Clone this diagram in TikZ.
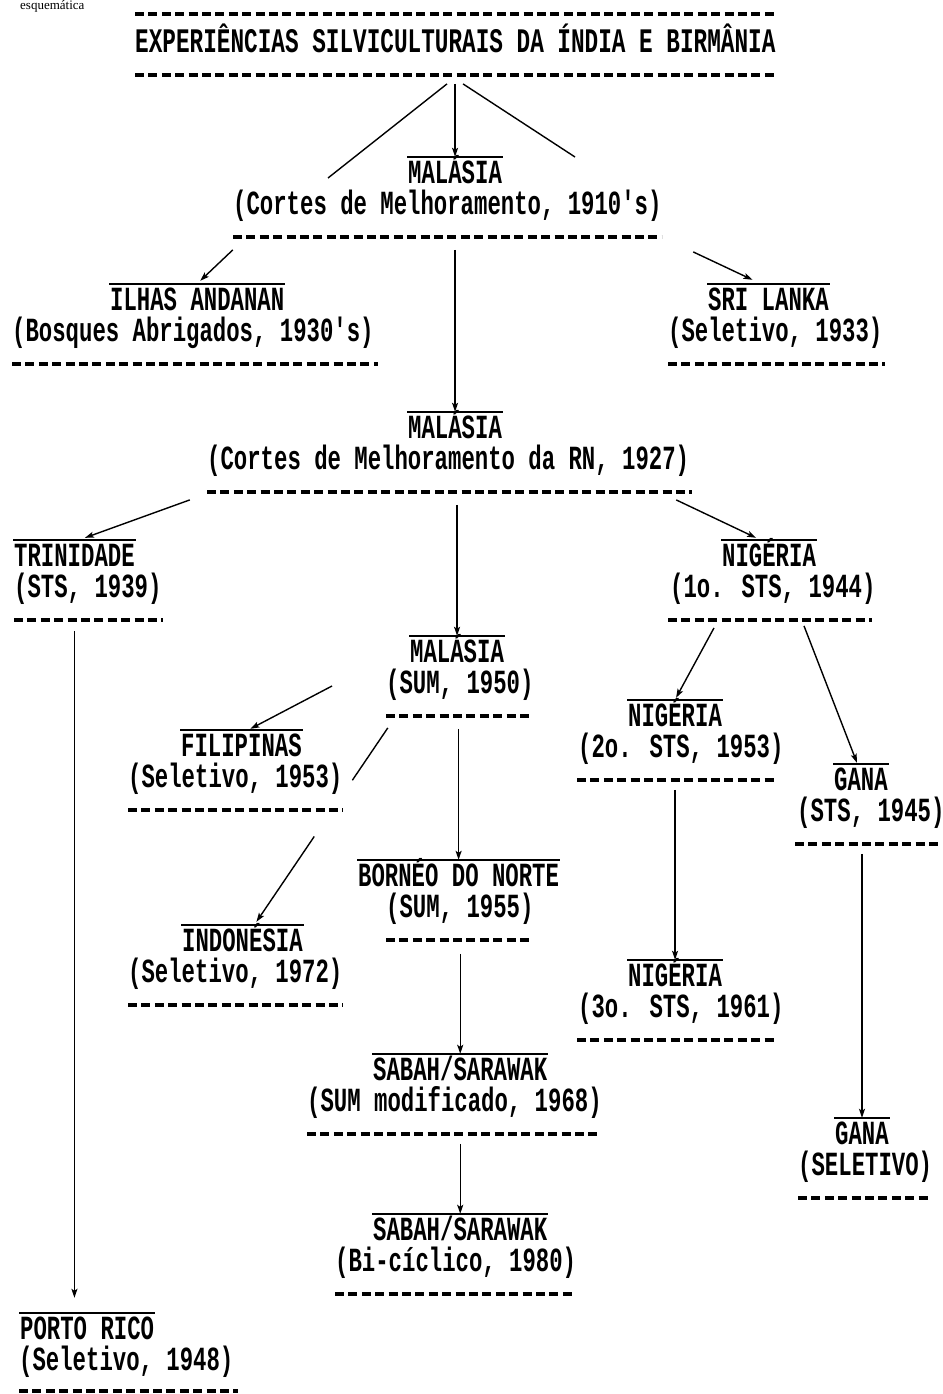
\documentclass[tikz,border=0pt]{standalone}
\usepackage{fontspec}
\newfontfamily\tw[FakeStretch=0.66]{Liberation Mono}
\newfontfamily\srf{Liberation Serif}
\usetikzlibrary{arrows.meta,calc}
\begin{document}
\begin{tikzpicture}[x=1pt,y=-1pt,
  twf/.style={font={\tw\bfseries\fontsize{33.8pt}{40pt}\selectfont}},
  nm/.style={twf, inner xsep=1pt, inner ysep=0pt, text height=26pt, text depth=0pt, anchor=base west},
  dt/.style={twf, inner sep=0pt, anchor=base west},
  dashrule/.style={minimum width=#1, minimum height=3.4pt, inner sep=0pt,
    path picture={\draw[line width=3.4pt, dash pattern=on 9pt off 4.4pt]
      (path picture bounding box.west) -- (path picture bounding box.east);}},
  ol/.style={line width=2pt},
  con/.style={line width=1.4pt},
  arr/.style={con, -{Stealth[length=9pt,width=6pt,inset=2pt]}}]
\useasboundingbox (0,0) rectangle (942,1394);
\node[font={\srf\fontsize{13pt}{14pt}\selectfont}, anchor=base west, inner sep=0pt] (frag) at (20,10) {esquemática};

% header
\node[dashrule=640] (htop) at (455,14) {};
\node[dt, font={\tw\bfseries\fontsize{34.4pt}{40pt}\selectfont}] (head) at (135,53) {EXPERIÊNCIAS SILVICULTURAIS DA ÍNDIA E BIRMÂNIA};
\node[dashrule=640] (hbot) at (455,75) {};

% blocks
\node[nm] (mal1) at (407,183) {MALÁSIA};
\node[dt] (mal1d) at (233,214) {(Cortes de Melhoramento, 1910's)};
\node[dashrule=429] (mal1r) at (447.5,237) {};

\node[nm] (ilhas) at (109,310) {ILHAS ANDANAN};
\node[dt] (ilhasd) at (12,341) {(Bosques Abrigados, 1930's)};
\node[dashrule=366] (ilhasr) at (195,364) {};

\node[nm] (sri) at (707,310) {SRI LANKA};
\node[dt] (srid) at (668,341) {(Seletivo, 1933)};
\node[dashrule=217] (srir) at (776.5,364) {};

\node[nm] (mal2) at (407,438) {MALÁSIA};
\node[dt] (mal2d) at (207,469) {(Cortes de Melhoramento da RN, 1927)};
\node[dashrule=485] (mal2r) at (449.5,492) {};

\node[nm] (trin) at (13,566) {TRINIDADE};
\node[dt] (trind) at (14,597) {(STS, 1939)};
\node[dashrule=149] (trinr) at (88.5,620) {};

\node[nm] (nig1) at (721,566) {NIGÉRIA};
\node[dt] (nig1d) at (670,597) {(1o. STS, 1944)};
\node[dashrule=204] (nig1r) at (770,620) {};

\node[nm] (mal3) at (409,662) {MALÁSIA};
\node[dt] (mal3d) at (386,693) {(SUM, 1950)};
\node[dashrule=144] (mal3r) at (458,716) {};

\node[nm] (fil) at (180,756) {FILIPINAS};
\node[dt] (fild) at (128,787) {(Seletivo, 1953)};
\node[dashrule=215] (filr) at (235.5,810) {};

\node[nm] (indo) at (181,951) {INDONÉSIA};
\node[dt] (indod) at (128,982) {(Seletivo, 1972)};
\node[dashrule=215] (indor) at (235.5,1005) {};

\node[nm] (borneo) at (357,886) {BORNÉO DO NORTE};
\node[dt] (borneod) at (386,917) {(SUM, 1955)};
\node[dashrule=144] (borneor) at (458,940) {};

\node[nm] (sabah1) at (372,1080) {SABAH/SARAWAK};
\node[dt] (sabah1d) at (307,1111) {(SUM modificado, 1968)};
\node[dashrule=293] (sabah1r) at (453.5,1134) {};

\node[nm] (sabah2) at (372,1240) {SABAH/SARAWAK};
\node[dt] (sabah2d) at (335,1271) {(Bi-cíclico, 1980)};
\node[dashrule=240] (sabah2r) at (455,1294) {};

\node[nm] (porto) at (19,1339) {PORTO RICO};
\node[dt] (portod) at (19,1370) {(Seletivo, 1948)};
\node[dashrule=219] (portor) at (128.5,1391) {};

\node[nm] (nig2) at (627,726) {NIGÉRIA};
\node[dt] (nig2d) at (578,757) {(2o. STS, 1953)};
\node[dashrule=200] (nig2r) at (677,780) {};

\node[nm] (gana1) at (833,790) {GANA};
\node[dt] (gana1d) at (797,821) {(STS, 1945)};
\node[dashrule=147] (gana1r) at (868.5,844) {};

\node[nm] (nig3) at (627,986) {NIGÉRIA};
\node[dt] (nig3d) at (578,1017) {(3o. STS, 1961)};
\node[dashrule=200] (nig3r) at (677,1040) {};

\node[nm] (gana2) at (834,1144) {GANA};
\node[dt] (gana2d) at (798,1175) {(SELETIVO)};
\node[dashrule=132] (gana2r) at (864,1198) {};

% overlines
\foreach \n in {mal1,ilhas,sri,mal2,trin,nig1,mal3,fil,indo,borneo,sabah1,sabah2,porto,nig2,gana1,nig3,gana2}
  \draw[ol] (\n.north west) -- (\n.north east);

% connectors from header
\coordinate (hl) at (328,178);
\coordinate (hr) at (575,157);
\draw[con] ($(hbot.south)+(-8,7)$) -- (hl);
\draw[arr] ($(hbot.south -| mal1.north)+(0,7)$) -- (mal1.north);
\draw[con] ($(hbot.south)+(8,7)$) -- (hr);

% from mal1
\draw[arr] ($(mal1r.south west)+(0,11)$) -- ($(ilhas.north)+(3,-3)$);
\draw[arr] ($(mal1r.south east)+(31,13)$) -- ($(sri.north)+(-16,-4)$);
\draw[arr] ($(mal1r.south -| mal2.north)+(0,11)$) -- (mal2.north);

% from mal2
\draw[arr] ($(mal2r.south west)+(-17,6)$) -- ($(trin.north)+(10.5,-2)$);
\draw[arr] ($(mal2r.south east)+(-16,6)$) -- ($(nig1.north)+(-13,-2)$);
\draw[arr] ($(mal2r.south -| mal3.north)+(0,11)$) -- (mal3.north);

% from mal3
\draw[arr] ($(mal3d.base west)+(-54,-7)$) -- ($(fil.north)+(9,-1)$);
\path ($(mal3r.south west)+(2,10)$) coordinate (i0)
      ($(indo.north)+(14,-3)$) coordinate (i1);
\draw[con] (i0) -- ($(i0)!0.27!(i1)$);
\draw[arr] ($(i0)!0.56!(i1)$) -- (i1);
\draw[arr] ($(mal3r.south -| borneo.north)+(0,11)$) -- (borneo.north);

% middle column
\draw[arr] ($(borneor.south -| sabah1.north)+(0,12)$) -- (sabah1.north);
\draw[arr] ($(sabah1r.south -| sabah2.north)+(0,8)$) -- (sabah2.north);

% trinidad -> porto rico
\draw[arr] ($(trinr.south -| trin.north)+(0,9)$) -- ($(porto.north -| trin.north)+(0,-15)$);

% nigeria branch
\draw[arr] ($(nig1r.south)+(-56,6)$) -- ($(nig2.north)+(1,-2)$);
\draw[arr] ($(nig1r.south)+(34,4)$) -- ($(gana1.north)+(-4,-1)$);
\draw[arr] ($(nig2r.south -| nig3.north)+(0,8)$) -- (nig3.north);
\draw[arr] ($(gana1r.south -| gana2.north)+(0,8)$) -- (gana2.north);
\end{tikzpicture}
\end{document}
